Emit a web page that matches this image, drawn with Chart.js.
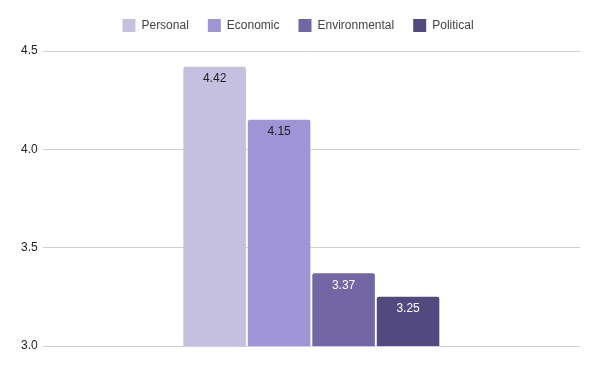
<!DOCTYPE html>
<html>
<head>
<meta charset="utf-8">
<script src="https://cdn.jsdelivr.net/npm/chart.js@4/dist/chart.umd.min.js"></script>
<style>
  html, body { margin: 0; padding: 0; background: #fff; }
  #wrap { width: 600px; height: 371px; }
</style>
</head>
<body>
<div id="wrap"><canvas id="chart"></canvas></div>
<script>
const categories = ['']
const seriesNames = ['Personal', 'Economic', 'Environmental', 'Political']
const seriesValues = [[4.42], [4.15], [3.37], [3.25]]
const seriesColors = ['#c5c0df', '#9f94d6', '#7366a5', '#524a7f']
const labelColors = ['#222', '#222', '#fff', '#fff']
const yTicks = [3.0, 3.5, 4.0, 4.5]

// value labels drawn inside the top of each bar
const barLabels = {
        id: 'barLabels',
        afterDatasetsDraw(chart) {
                const c = chart.ctx
                c.save()
                c.font = '12px "Liberation Sans", Arial, sans-serif'
                c.textAlign = 'center'
                c.textBaseline = 'middle'
                chart.data.datasets.forEach((ds, i) => {
                        chart.getDatasetMeta(i).data.forEach((bar, j) => {
                                c.fillStyle = labelColors[i]
                                c.fillText(ds.data[j].toFixed(2), bar.x, bar.y + 12)
                        })
                })
                c.restore()
        }
}

new Chart(document.getElementById('chart'), {
        type: 'bar',
        data: {
                labels: categories,
                datasets: seriesNames.map((name, i) => ({
                        label: name,
                        data: seriesValues[i],
                        backgroundColor: seriesColors[i],
                        borderRadius: 2,
                        borderSkipped: 'bottom',
                        barPercentage: 0.97,
                        categoryPercentage: 0.48
                }))
        },
        options: {
                responsive: true,
                maintainAspectRatio: false,
                animation: false,
                layout: { padding: { top: 0, right: 20, bottom: 25, left: 16 } },
                plugins: {
                        legend: {
                                position: 'top',
                                labels: {
                                        boxWidth: 13,
                                        boxHeight: 13,
                                        padding: 19,
                                        color: '#444',
                                        font: { family: '"Liberation Sans", Arial, sans-serif', size: 12 }
                                }
                        },
                        tooltip: { enabled: false }
                },
                scales: {
                        x: {
                                display: false,
                                grid: { display: false }
                        },
                        y: {
                                min: yTicks[0],
                                max: yTicks[yTicks.length - 1],
                                border: { display: false },
                                grid: { color: '#d0d0d0', drawTicks: false },
                                afterBuildTicks: axis => { axis.ticks = yTicks.map(v => ({ value: v })) },
                                ticks: {
                                        padding: 5,
                                        color: '#222',
                                        font: { family: '"Liberation Sans", Arial, sans-serif', size: 12 },
                                        callback: v => v.toFixed(1)
                                }
                        }
                }
        },
        plugins: [barLabels, {
                id: 'legendGap',
                beforeInit(chart) {
                        const fit = chart.legend.fit
                        chart.legend.fit = function () {
                                fit.bind(chart.legend)()
                                this.height += 9
                        }
                }
        }]
})
</script>
</body>
</html>
